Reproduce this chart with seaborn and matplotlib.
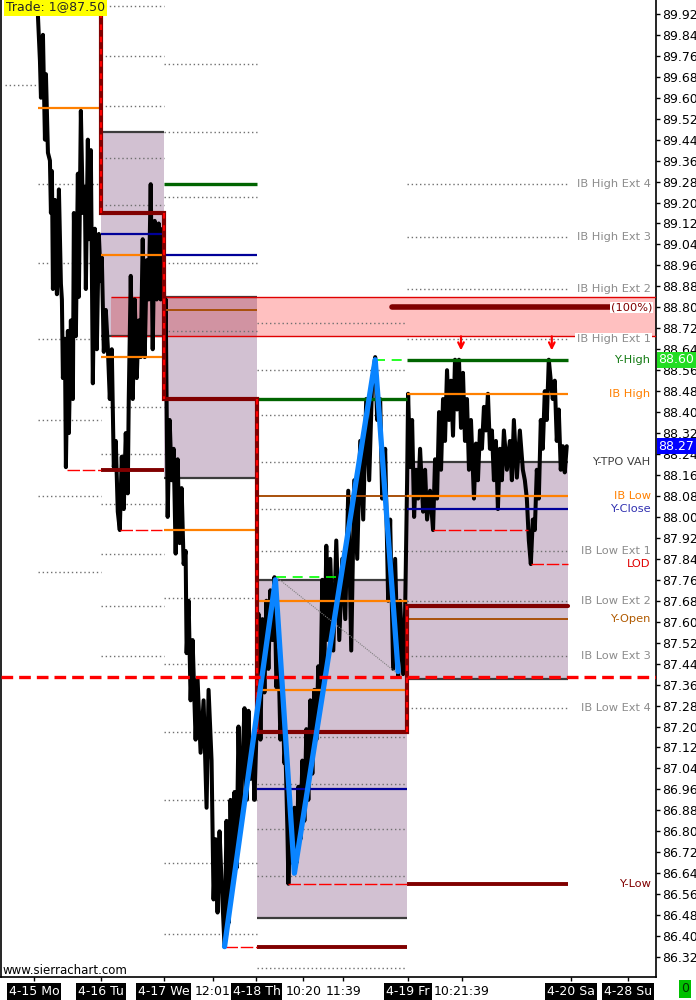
import matplotlib
matplotlib.use("Agg")
import matplotlib.pyplot as plt
import matplotlib.transforms as mtransforms
from matplotlib.patches import Rectangle
from matplotlib.ticker import MultipleLocator, FormatStrFormatter
import seaborn as sns

# ---- values (x = bar index, y = price) ----
bar_x = [37, 38, 39, 40, 42, 44, 45, 47, 49, 50, 51, 52, 54, 56, 58, 60, 61, 62, 64, 65,
         67, 68, 70, 72, 73, 75, 77, 78, 80, 82, 84, 85, 87, 88, 90, 92, 94, 96, 98,
         100, 101, 103, 105, 107, 109, 111, 113, 115, 117, 119, 121, 123, 125, 127, 128, 130,
         132, 134, 136, 138, 140, 142, 144, 146, 148, 150, 152, 154, 156, 158, 160, 162,
         163, 164, 165, 167, 169, 171, 173, 175, 177, 179, 181, 183, 185, 186, 188, 190, 192,
         195, 197, 200, 203, 206, 208, 211, 213, 215, 217, 219, 221, 224, 226, 228, 230, 232,
         234, 236, 238, 240, 242, 244, 246, 248, 250, 252, 254, 256,
         257, 258, 260, 262, 264, 266, 268, 270, 272, 274, 276, 278, 280, 282, 284, 285, 287,
         288, 290, 292, 294, 296, 298, 300, 302, 304, 306, 308, 310, 312, 314, 316, 318, 320,
         322, 324, 326, 328, 330, 333, 336, 339, 342, 345, 348, 351, 354, 357, 360, 363, 366,
         369, 372, 375, 377, 380, 382, 385, 388, 390, 393, 395, 398, 400, 403, 405,
         407, 408, 410, 412, 414, 416, 418, 420, 423, 425, 427, 430, 433, 435, 437, 439, 441,
         443, 445, 447, 449, 451, 453, 455, 457, 459, 461, 463, 465, 467, 469, 471, 474, 476,
         478, 480, 482, 484, 486, 488, 490, 492, 494, 496, 498, 500, 502, 504, 507, 510, 512,
         514, 517, 520, 523, 525, 527, 529, 531, 533, 535, 537, 539, 541, 543, 545, 547, 549,
         551, 553, 555, 557, 559, 561, 563, 565, 567]
price = [89.91, 89.82, 89.74, 89.60, 89.84, 89.44, 89.69, 89.39, 89.36, 89.16, 89.32, 88.87,
         89.21, 88.85, 89.25, 88.89, 88.83, 88.53, 88.68, 88.19, 88.71, 88.32, 88.75, 88.45,
         89.16, 88.69, 89.31, 88.84, 89.55, 89.16, 89.26, 88.87, 89.44, 89.06, 89.40, 88.51,
         89.10, 88.64, 89.08,
         88.90, 88.99, 88.63, 88.79, 88.65, 88.45, 88.64, 88.19, 88.29, 88.02, 87.95, 88.23,
         88.03, 88.32, 88.09, 88.45, 88.92, 88.45, 88.83, 88.53, 88.75, 88.61, 89.06, 88.61,
         88.98, 88.83, 89.27, 88.64, 89.13, 88.83, 89.12, 88.83, 89.10,
         89.10, 88.45, 88.83, 88.00, 88.37, 88.14, 88.26, 87.86, 88.22, 87.90, 88.11, 87.82,
         87.87, 87.48, 87.68, 87.30, 87.53, 87.15, 87.38, 87.10, 87.30, 86.89, 87.34, 87.07,
         86.54, 86.77, 86.49, 86.80, 86.61, 86.36, 86.84, 86.45, 86.92, 86.60, 86.95, 86.66,
         87.20, 86.81, 87.07, 87.27, 86.92, 87.26, 87.00, 87.15, 86.92, 87.17,
         87.30, 87.63, 87.15, 87.61, 87.33, 87.68, 87.42, 87.72, 87.53, 87.77, 87.35, 87.49,
         87.15, 87.34, 87.06, 87.12, 86.81, 86.60, 86.88, 86.68, 86.89, 86.68, 86.97, 86.77,
         87.07, 86.84, 87.19, 86.92, 87.30, 87.02, 87.34, 87.15, 87.43, 87.30, 87.76, 87.40,
         87.89, 87.53, 87.84, 87.49, 87.91, 87.53, 87.84, 87.61, 88.10, 87.49, 88.14, 87.84,
         88.29, 87.99, 88.45, 88.14, 88.52, 88.61, 88.37, 88.45, 88.07, 88.26, 87.68, 87.99,
         87.42, 87.84, 87.39, 87.68, 87.40, 87.64,
         88.14, 88.47, 88.19, 88.37, 88.00, 88.18, 88.07, 88.26, 88.02, 88.18, 87.99, 88.10,
         87.95, 88.22, 88.07, 88.40, 88.18, 88.45, 88.29, 88.56, 88.37, 88.52, 88.31, 88.60,
         88.41, 88.60, 88.34, 88.55, 88.29, 88.45, 88.18, 88.37, 88.07, 88.28, 88.14, 88.33,
         88.26, 88.42, 88.33, 88.47, 88.26, 88.33, 88.14, 88.29, 88.03, 88.26, 88.14, 88.33,
         88.18, 88.29, 88.14, 88.37, 88.15, 88.33, 88.18, 88.14, 88.07, 87.91, 87.82, 87.99,
         87.95, 88.18, 88.07, 88.37, 88.26, 88.48, 88.37, 88.60, 88.52, 88.45, 88.52, 88.29,
         88.41, 88.18, 88.27, 88.17, 88.27]

swing_x = [224, 275, 294, 375, 398]
swing_p = [86.36, 87.76, 86.64, 88.60, 87.41]

# sessions: Mo, Tu, We, Th, Fr
day_start = [37, 100, 163, 257, 407]
day_end = [100, 163, 257, 407, 568]

# value area boxes (day index, top, bottom)
va_day = [1, 2, 3, 4]
va_top = [89.47, 88.84, 87.76, 88.21]
va_bot = [88.69, 88.15, 86.47, 87.38]

# session open staircase for Tu..Fr
open_px = [89.16, 88.45, 87.18, 87.66]
prev_low = [(1, 88.18), (3, 86.36), (4, 86.60)]
orange_lv = [(0, 89.56), (1, 89.00), (1, 88.61), (2, 87.95), (3, 87.68), (3, 87.34),
             (4, 88.47), (4, 88.08)]
navy_lv = [(1, 89.08), (2, 89.00), (3, 86.96), (4, 88.03)]
green_lv = [(2, 89.27), (3, 88.45), (4, 88.60)]
brown_lv = [(2, 88.79), (3, 88.08), (4, 87.61)]
ext_lv = {
    0: [89.27, 88.97, 88.68, 88.37, 88.08, 87.79],
    1: [89.95, 89.76, 89.57, 89.37, 89.19, 88.42, 88.24, 88.05, 87.86, 87.66, 87.47],
    2: [89.73, 89.47, 89.22, 88.97, 88.71, 87.69, 87.44, 87.18, 86.92, 86.68, 86.41],
    3: [88.74, 88.56, 88.39, 88.21, 88.03, 87.87, 87.16, 86.98, 86.81, 86.63, 86.28],
    4: [89.27, 89.07, 88.87, 88.68, 87.87, 87.68, 87.47, 87.27],
}
low_marks = [(66, 100, 88.18), (119, 161, 87.95), (224, 257, 86.36), (288, 407, 86.60),
             (433, 528, 87.95), (531, 568, 87.82)]

zone_top, zone_bot = 88.84, 88.69
target_px = 88.80
trade_px = 87.39
last_px = 88.27
yhigh_px = 88.60
arrow_x = [461, 552]

lab_text = ["IB High Ext 4", "IB High Ext 3", "IB High Ext 2", "IB High Ext 1", "Y-High",
            "IB High", "Y-TPO VAH", "IB Low", "Y-Close", "IB Low Ext 1", "LOD",
            "IB Low Ext 2", "Y-Open", "IB Low Ext 3", "IB Low Ext 4", "Y-Low"]
lab_price = [89.27, 89.07, 88.87, 88.68, 88.60, 88.47, 88.21, 88.08, 88.03, 87.87, 87.82,
             87.68, 87.61, 87.47, 87.27, 86.60]
lab_color = ["#8c8c8c", "#8c8c8c", "#8c8c8c", "#8c8c8c", "#137a13", "#ff8000", "#404040",
             "#ff8000", "#3030b0", "#8c8c8c", "#e00000", "#8c8c8c", "#b05a00", "#8c8c8c",
             "#8c8c8c", "#800000"]

xtick_pos = [33, 100, 163, 212, 256, 303, 343, 408, 462, 571, 628]
xtick_lab = ["4-15 Mo", "4-16 Tu", "4-17 We", "12:01", "4-18 Th", "10:20", "11:39",
             "4-19 Fr", "10:21:39", "4-20 Sa", "4-28 Su"]
is_date = [True, True, True, False, True, False, False, True, False, True, True]

# ---- drawing ----
sns.set_theme(style="white")
plt.rcParams['font.family'] = ['DejaVu Sans']

fig = plt.figure(figsize=(6.96, 10), dpi=100)
ax = fig.add_axes([0.0015, 0.023, 654.5 / 696, 0.977])
ax.set_xlim(0, 656)
ax.set_ylim(86.244, 89.973)

DKRED = "#800000"

# value area boxes
for d, top, bot in zip(va_day, va_top, va_bot):
    x0, x1 = day_start[d], day_end[d]
    ax.add_patch(Rectangle((x0, bot), x1 - x0, top - bot, color="#d2c1d2", lw=0, zorder=1))
    ax.hlines([top, bot], x0, x1, color="#3c3c3c", lw=1.6, zorder=3)

# target zone
ax.add_patch(Rectangle((110, zone_bot), 656 - 110, zone_top - zone_bot, color="#ffc0c0",
                       lw=0, zorder=1.2))
ax.add_patch(Rectangle((110, zone_bot), day_end[2] - 110, zone_top - zone_bot,
                       color="#d193a2", lw=0, zorder=1.3))
ax.hlines([zone_top, zone_bot], 110, 656, color="#e00000", lw=1, zorder=3)

# IB extension dotted levels
for d, lvls in ext_lv.items():
    ax.hlines(lvls, day_start[d], day_end[d], color="#707070", lw=1,
              linestyles=(0, (1, 2)), zorder=2)
ax.hlines(89.65, 4, 37, color="#707070", lw=1, linestyles=(0, (1, 2)), zorder=2)

# price trace
sns.lineplot(x=bar_x, y=price, ax=ax, color="black", lw=2.9, estimator=None, sort=False,
             zorder=4)

# level lines
for d, p in orange_lv:
    ax.hlines(p, day_start[d], day_end[d], color="#ff8000", lw=1.6, zorder=5)
for d, p in navy_lv:
    ax.hlines(p, day_start[d], day_end[d], color="#000099", lw=1.6, zorder=5)
for d, p in green_lv:
    ax.hlines(p, day_start[d], day_end[d], color="#006400", lw=2.4, zorder=5)
for d, p in brown_lv:
    ax.hlines(p, day_start[d], day_end[d], color="#a8500a", lw=1.4, zorder=5)
for d, p in prev_low:
    ax.hlines(p, day_start[d], day_end[d], color=DKRED, lw=2.8, zorder=5)
for x0, x1, p in low_marks:
    ax.hlines(p, x0, x1, color="#ff0000", lw=1, linestyles=(0, (9, 2)), zorder=5)
ax.hlines(yhigh_px, 375, 407, color="#00ff00", lw=1.2, linestyles=(0, (6, 4)), zorder=5)
ax.hlines(87.77, 276, 340, color="#00ff00", lw=1.2, linestyles=(0, (6, 4)), zorder=5)
ax.plot([276, 398], [87.77, 87.40], color="#808080", lw=0.8, ls=(0, (1, 1)), zorder=4.5)

# open staircase
stair_x = [100, 100]
stair_y = [89.973, open_px[0]]
for i in range(4):
    d = i + 1
    stair_x += [day_start[d], day_end[d]]
    stair_y += [open_px[i], open_px[i]]
    if i < 3:
        stair_x += [day_end[d]]
        stair_y += [open_px[i + 1]]
ax.plot(stair_x, stair_y, color=DKRED, lw=3, zorder=6, solid_joinstyle="miter")
for i in range(4):
    x = day_start[i + 1]
    y0 = 89.973 if i == 0 else open_px[i - 1]
    ax.plot([x, x], [y0, open_px[i]], color="#ff0000", lw=1.6, ls=(0, (2.5, 3)), zorder=6.5)

# projection swing
sns.lineplot(x=swing_x, y=swing_p, ax=ax, color="#0a84ff", lw=3.8, estimator=None,
             sort=False, zorder=7)

# trade line
ax.axhline(trade_px, color="#ff0000", lw=2.4, ls=(0, (3.5, 1.8)), zorder=8)

# 100% target
ax.plot([392, 617], [target_px, target_px], color=DKRED, lw=4, solid_capstyle="round",
        zorder=6)
ax.text(653, target_px, "(100%)", color=DKRED, fontsize=8.2, ha="right", va="center",
        zorder=9, bbox=dict(facecolor="white", edgecolor="none", pad=0.6))

# arrows at the double top
for ax_x in arrow_x:
    ax.annotate("", xy=(ax_x, 88.625), xytext=(ax_x, 88.70),
                arrowprops=dict(arrowstyle="->", color="#ff0000", lw=1.6,
                                mutation_scale=10), zorder=8)

# right-hand labels
for t, p, c in zip(lab_text, lab_price, lab_color):
    kw = {}
    if t == "IB High Ext 1":
        kw["bbox"] = dict(facecolor="white", edgecolor="none", pad=0.8)
    ax.text(651, p, t, color=c, fontsize=8.2, ha="right", va="center", zorder=9, **kw)

# axes styling
ax.spines["top"].set_visible(False)
for s in ["left", "right", "bottom"]:
    ax.spines[s].set_color("black")
    ax.spines[s].set_linewidth(1.2)
ax.grid(False)

ax.yaxis.tick_right()
ax.yaxis.set_major_locator(MultipleLocator(0.08))
ax.yaxis.set_major_formatter(FormatStrFormatter("%.2f"))
ax.tick_params(axis="y", direction="out", length=3, width=1, pad=1.5, labelsize=9,
               colors="black", right=True, left=False)

ax.set_xticks(xtick_pos)
ax.set_xticklabels(xtick_lab)
ax.tick_params(axis="x", direction="out", length=3, width=1, pad=2.5, labelsize=9,
               colors="black", bottom=True)
for lab, d in zip(ax.get_xticklabels(), is_date):
    if d:
        lab.set_color("white")
        lab.set_bbox(dict(facecolor="black", edgecolor="none", pad=1.4))

# price flags on the axis (they cover the tick labels beneath, as in the platform)
blend = mtransforms.blended_transform_factory(ax.transAxes, ax.transData)
ax.text(1.004, yhigh_px, f"{yhigh_px:.2f}", transform=blend, color="white", fontsize=9,
        ha="left", va="center", zorder=10, clip_on=False,
        bbox=dict(facecolor="#22dd22", edgecolor="none", pad=1.2))
ax.text(1.004, last_px, f"{last_px:.2f}", transform=blend, color="white", fontsize=9,
        ha="left", va="center", zorder=10, clip_on=False,
        bbox=dict(facecolor="#0000ff", edgecolor="none", pad=1.2))

ax.text(0.007, 0.9995, "Trade: 1@87.50", transform=ax.transAxes, fontsize=9, ha="left",
        va="top", zorder=10, bbox=dict(facecolor="#ffff00", edgecolor="none", pad=1.5))
fig.text(0.004, 0.030, "www.sierrachart.com", fontsize=8.5, ha="left", va="center",
         color="black")
fig.text(0.984, 0.011, "0", fontsize=9, ha="center", va="center", color="#003300",
         bbox=dict(facecolor="#00c000", edgecolor="none", pad=1.5))

fig.savefig("out.png", dpi=100)
